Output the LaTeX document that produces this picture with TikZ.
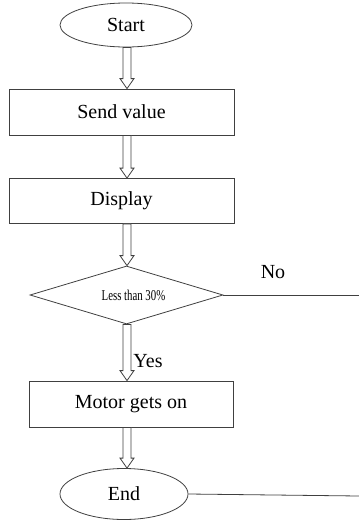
\documentclass[tikz,border=0pt]{standalone}
\usepackage{fontspec}
\setmainfont{Liberation Serif}
\usetikzlibrary{shapes.geometric,calc}

\tikzset{
  ink/.style={draw=black!75, line width=0.8pt},
  procbox/.style={ink, rectangle, inner sep=0pt, font=\fontsize{20}{24}\selectfont},
  terminal/.style={ink, ellipse, inner sep=0pt, font=\fontsize{20}{24}\selectfont},
  decision/.style={ink, diamond, inner sep=0pt, aspect=3.3},
  tag/.style={inner sep=0pt, font=\fontsize{20}{24}\selectfont},
  hollow/.style={ink, fill=white, line join=miter},
}

% x position of the column of block arrows
\def\flowx{127}

% hollow block arrow pointing down, from the bottom of one node to the top of another
\newcommand\blockdown[2]{%
  \path let \p1=(#1.south), \p2=(#2.north) in
    [hollow] (\flowx-4,\y1) -- (\flowx-4,\y2+10) -- (\flowx-7,\y2+10) -- (\flowx,\y2)
      -- (\flowx+7,\y2+10) -- (\flowx+4,\y2+10) -- (\flowx+4,\y1) -- cycle;}

\begin{document}
\begin{tikzpicture}[x=1pt,y=-1pt]
  \useasboundingbox (0,0) rectangle (359,520);

  \node[terminal, minimum width=132pt, minimum height=44pt] (start) at (126,25) {Start};
  \node[procbox, minimum width=225pt, minimum height=46pt] (send) at (121.5,112) {Send value};
  \node[procbox, minimum width=225pt, minimum height=45pt] (disp) at (121.5,201) {Display};
  \node[decision, minimum width=193pt, minimum height=58pt] (dec) at (126.5,295)
    {\hspace*{14pt}\scalebox{0.72}[1]{\fontsize{15}{18}\selectfont Less than 30\%}};
  \node[procbox, minimum width=204pt, minimum height=46pt] (motor) at (131,404) {Motor gets on};
  \node[terminal, minimum width=128pt, minimum height=51pt] (end) at (124,494) {End};

  \coordinate (noend) at (359,295);
  \coordinate (endend) at (359,496);

  \blockdown{start}{send}
  \blockdown{send}{disp}
  \blockdown{disp}{dec}
  \blockdown{dec}{motor}
  \blockdown{motor}{end}

  \draw[ink] (dec.east) -- (noend);
  \draw[ink] (end.east) -- (endend);

  \node[tag] (no) at (273,272) {No};
  \node[tag] (yes) at (148,361) {Yes};
\end{tikzpicture}
\end{document}
